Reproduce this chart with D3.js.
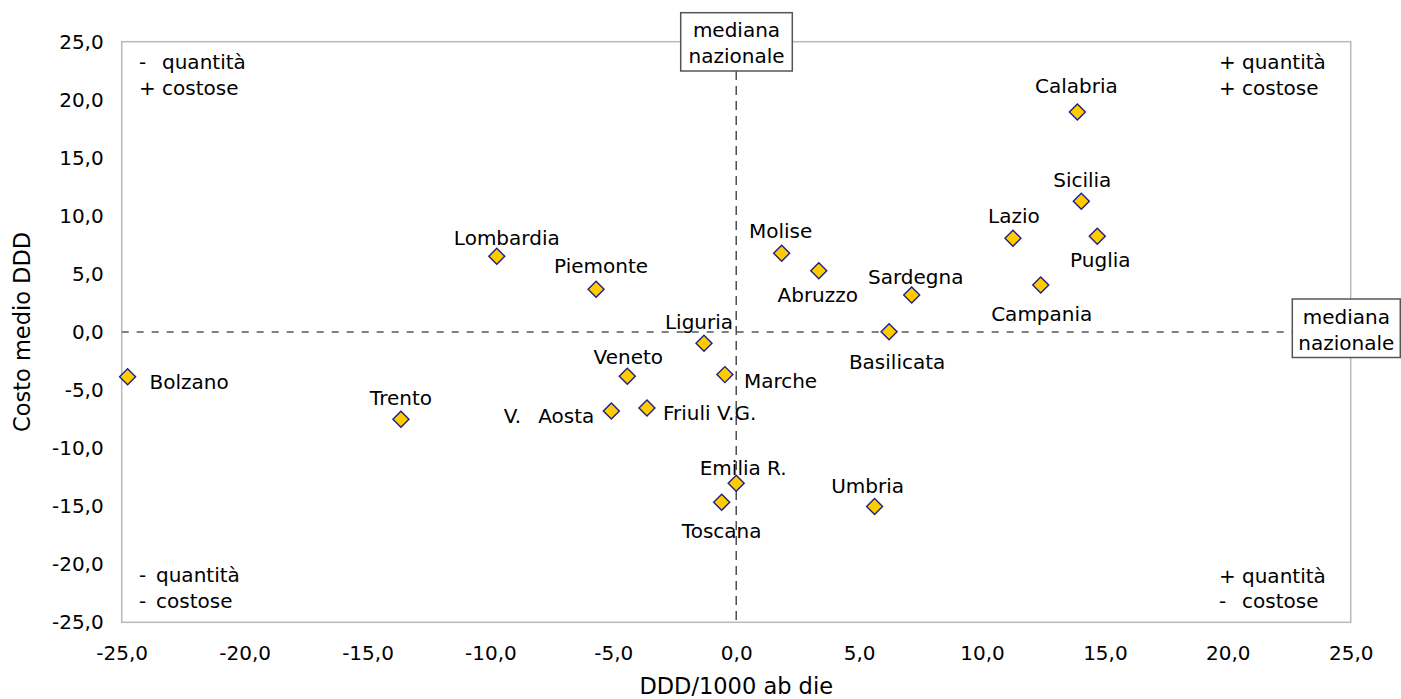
<!DOCTYPE html>
<html>
<head>
<meta charset="utf-8">
<script src="https://cdn.jsdelivr.net/npm/d3@7"></script>
<style>
  body { margin: 0; background: #fff; }
  svg text { font-family: "DejaVu Sans", Verdana, sans-serif; fill: #000; }
</style>
</head>
<body>
<div id="chart"></div>
<script>
// values
const regioni = ["Bolzano", "Trento", "Lombardia", "Piemonte", "Liguria", "Veneto", "V. Aosta",
  "Friuli V.G.", "Marche", "Emilia R.", "Toscana", "Molise", "Abruzzo", "Basilicata", "Sardegna",
  "Umbria", "Lazio", "Campania", "Calabria", "Sicilia", "Puglia"];
const ddd = [-24.76, -13.64, -9.74, -5.70, -1.31, -4.43, -5.08, -3.63, -0.46, 0.0, -0.59,
  1.85, 3.36, 6.22, 7.14, 5.63, 11.26, 12.39, 13.88, 14.04, 14.69];
const costo = [-3.85, -7.52, 6.52, 3.68, -0.97, -3.82, -6.80, -6.55, -3.67, -13.03, -14.67,
  6.78, 5.28, 0.03, 3.19, -15.02, 8.07, 4.05, 18.95, 11.26, 8.24];
const xTicks = [-25, -20, -15, -10, -5, 0, 5, 10, 15, 20, 25];
const yTicks = [-25, -20, -15, -10, -5, 0, 5, 10, 15, 20, 25];

const w = 1401, h = 699;
const pLeft = 121.7, pRight = 1350.7, pTop = 41.7, pBottom = 622.3;
const fs = "20px";
const titleFs = "22.5px";

// label placement relative to each marker: [dx, dy, anchor]
const labelPos = {
  "Bolzano": [22, 5, "start"], "Trento": [0, -21, "middle"], "Lombardia": [10, -18, "middle"],
  "Piemonte": [5, -23, "middle"], "Liguria": [-5, -21, "middle"], "Veneto": [1, -19, "middle"],
  "V. Aosta": [-17, 5, "end"], "Friuli V.G.": [16, 5, "start"], "Marche": [19, 6, "start"],
  "Emilia R.": [7, -15, "middle"], "Toscana": [0, 29, "middle"], "Molise": [-1, -22, "middle"],
  "Abruzzo": [-1, 24, "middle"], "Basilicata": [8, 30, "middle"], "Sardegna": [4, -18, "middle"],
  "Umbria": [-7, -20, "middle"], "Lazio": [1, -22, "middle"], "Campania": [1, 29, "middle"],
  "Calabria": [-1, -26, "middle"], "Sicilia": [1, -21, "middle"], "Puglia": [3, 24, "middle"]
};

const it = d3.formatLocale({decimal: ",", thousands: ".", grouping: [3], currency: ["€", ""], minus: "-"});
const fmt = it.format(".1f");

const x = d3.scaleLinear().domain([-25, 25]).range([pLeft, pRight]);
const y = d3.scaleLinear().domain([-25, 25]).range([pBottom, pTop]);

const svg = d3.select("#chart").append("svg")
  .attr("width", w).attr("height", h);

// frame
svg.append("rect")
  .attr("x", pLeft).attr("y", pTop)
  .attr("width", pRight - pLeft).attr("height", pBottom - pTop)
  .attr("fill", "none").attr("stroke", "#b8b8b8").attr("stroke-width", 1.5);

// axes
const xAxis = d3.axisBottom(x).tickValues(xTicks).tickFormat(fmt).tickSize(0).tickPadding(24);
const yAxis = d3.axisLeft(y).tickValues(yTicks).tickFormat(fmt).tickSize(0).tickPadding(18);

svg.append("g").attr("transform", "translate(0," + pBottom + ")").call(xAxis)
  .call(g => g.select(".domain").remove())
  .selectAll("text").style("font-size", fs).style("font-family", "DejaVu Sans");
svg.append("g").attr("transform", "translate(" + pLeft + ",0)").call(yAxis)
  .call(g => g.select(".domain").remove())
  .selectAll("text").style("font-size", fs).style("font-family", "DejaVu Sans");

svg.append("text")
  .attr("x", x(0)).attr("y", 686).attr("dy", "0.35em")
  .attr("text-anchor", "middle").style("font-size", titleFs)
  .text("DDD/1000 ab die");
svg.append("text")
  .attr("transform", "translate(22," + y(0) + ") rotate(-90)")
  .attr("dy", "0.35em").attr("text-anchor", "middle").style("font-size", titleFs)
  .text("Costo medio DDD");

// median lines
svg.append("line")
  .attr("x1", pLeft).attr("x2", 1292).attr("y1", y(0)).attr("y2", y(0))
  .attr("stroke", "#808080").attr("stroke-width", 2).attr("stroke-dasharray", "7,8");
svg.append("line")
  .attr("x1", x(0)).attr("x2", x(0)).attr("y1", 71).attr("y2", pBottom)
  .attr("stroke", "#333").attr("stroke-width", 1.3).attr("stroke-dasharray", "9,6");

// median boxes
function medianBox(bx, by, bw, bh) {
  svg.append("rect").attr("x", bx).attr("y", by).attr("width", bw).attr("height", bh)
    .attr("fill", "#fff").attr("stroke", "#555").attr("stroke-width", 1.5);
  const cx = bx + bw / 2;
  svg.append("text").attr("x", cx).attr("y", by + 17.5).attr("dy", "0.35em")
    .attr("text-anchor", "middle").style("font-size", fs).text("mediana");
  svg.append("text").attr("x", cx).attr("y", by + 43.5).attr("dy", "0.35em")
    .attr("text-anchor", "middle").style("font-size", fs).text("nazionale");
}
medianBox(680.7, 12.7, 111.6, 58.3);
medianBox(1292.3, 299, 108, 58.5);

// quadrant notes
const quadrants = [
  [139, 162, 62, "-", "quantità"], [139, 162, 88, "+", "costose"],
  [139, 156, 575, "-", "quantità"], [139, 156, 601, "-", "costose"],
  [1219, 1242, 62, "+", "quantità"], [1219, 1242, 88, "+", "costose"],
  [1219, 1242, 576, "+", "quantità"], [1219, 1242, 601, "-", "costose"]
];
quadrants.forEach(q => {
  const t = svg.append("text").attr("y", q[2]).attr("dy", "0.35em").style("font-size", fs);
  t.append("tspan").attr("x", q[0]).text(q[3]);
  t.append("tspan").attr("x", q[1]).text(q[4]);
});

// points
const pts = regioni.map((r, i) => ({name: r, x: ddd[i], y: costo[i]}));
const diamond = d3.symbol().type(d3.symbolSquare).size(128);

svg.append("g").selectAll("path").data(pts).enter().append("path")
  .attr("d", diamond)
  .attr("transform", d => "translate(" + x(d.x) + "," + y(d.y) + ") rotate(45)")
  .attr("fill", "#ffcc00").attr("stroke", "#1f1f8a").attr("stroke-width", 1.4);

svg.append("g").selectAll("text").data(pts).enter().append("text")
  .attr("x", d => x(d.x) + labelPos[d.name][0])
  .attr("y", d => y(d.y) + labelPos[d.name][1])
  .attr("dy", "0.35em")
  .attr("text-anchor", d => labelPos[d.name][2])
  .style("font-size", fs)
  .each(function(d) {
    // "V." and "Aosta" sit with a wide gap in the original
    const words = d.name === "V. Aosta" ? ["V.", "Aosta"] : [d.name];
    const t = d3.select(this);
    words.forEach((wd, i) => t.append("tspan").attr("dx", i ? 17 : 0).text(wd));
  });
</script>
</body>
</html>
